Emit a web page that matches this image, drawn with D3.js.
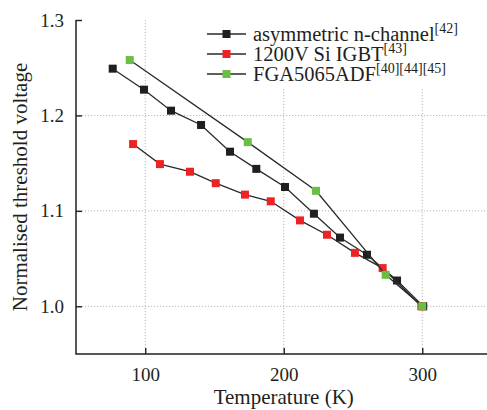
<!DOCTYPE html>
<html>
<head>
<meta charset="utf-8">
<script src="https://cdn.jsdelivr.net/npm/d3@7/dist/d3.min.js"></script>
<style>
  html, body { margin: 0; padding: 0; background: #fff; }
  svg { display: block; }
</style>
</head>
<body>
<svg id="chart" width="487" height="410"></svg>
<script>
// Threshold voltage (normalised to 300 K) versus temperature
const seriesNames = ["asymmetric n-channel", "1200V Si IGBT", "FGA5065ADF"];
const seriesRefs = ["[42]", "[43]", "[40][44][45]"];
const seriesColors = ["#1f1f1f", "#ed2224", "#6abd45"];

const tempAsym = [76.5, 99.1, 118.6, 140.3, 161.2, 180.2, 200.9, 221.8, 240.6, 260.1, 281.8, 300.7];
const vthAsym  = [1.249, 1.227, 1.205, 1.190, 1.162, 1.144, 1.125, 1.097, 1.072, 1.054, 1.027, 1.0];

const tempIgbt = [91.2, 110.6, 132.3, 150.9, 172.0, 190.6, 211.7, 231.2, 251.4, 271.4, 299.3];
const vthIgbt  = [1.170, 1.149, 1.141, 1.129, 1.117, 1.110, 1.090, 1.075, 1.056, 1.040, 1.0];

const tempFga = [88.8, 174.0, 223.3, 273.6, 300.0];
const vthFga  = [1.258, 1.172, 1.121, 1.033, 1.0];

const xTicks = [100, 200, 300];
const yTicks = [1.0, 1.1, 1.2, 1.3];
const yGridTicks = [1.0, 1.1, 1.2];

const series = [
  { t: tempAsym, v: vthAsym },
  { t: tempIgbt, v: vthIgbt },
  { t: tempFga,  v: vthFga }
];

const FONT = '"Liberation Serif", "Times New Roman"';
const INK = "#231f20";

const svg = d3.select("#chart");
const plotLeft = 76, plotRight = 491.5, plotTop = 20, plotBottom = 354;

const x = d3.scaleLinear().domain([50, 350]).range([plotLeft, plotRight]);
const y = d3.scaleLinear().domain([0.95, 1.3]).range([plotBottom, plotTop]);

// dotted grid
const grid = svg.append("g").attr("stroke", "#b8b8b8").attr("stroke-width", 1)
  .attr("stroke-dasharray", "1.2,1.8");
grid.selectAll("line.v").data(xTicks).join("line").attr("class", "v")
  .attr("x1", d => x(d)).attr("x2", d => x(d))
  .attr("y1", plotTop).attr("y2", plotBottom);
grid.selectAll("line.h").data(yGridTicks).join("line").attr("class", "h")
  .attr("x1", plotLeft).attr("x2", 487)
  .attr("y1", d => y(d)).attr("y2", d => y(d));

// legend backdrop hides the grid behind it
svg.append("rect").attr("x", 200).attr("y", plotTop - 2).attr("width", 290).attr("height", 70)
  .attr("fill", "#fff");

// axes with inward ticks
const xAxis = d3.axisBottom(x).tickValues(xTicks).tickSize(-6).tickPadding(14)
  .tickFormat(d3.format("d"));
const yAxis = d3.axisLeft(y).tickValues(yTicks).tickSize(-6).tickPadding(12)
  .tickFormat(d3.format(".1f"));

const gx = svg.append("g").attr("transform", `translate(0,${plotBottom})`).call(xAxis);
const gy = svg.append("g").attr("transform", `translate(${plotLeft},0)`).call(yAxis);
[gx, gy].forEach(g => {
  g.attr("font-family", FONT).attr("font-size", 19);
  g.select(".domain").remove();
  g.selectAll(".tick line").attr("stroke", INK).attr("stroke-width", 1.4);
  g.selectAll(".tick text").attr("fill", INK)
    .attr("font-family", FONT).attr("font-size", 19);
});
svg.append("path")
  .attr("d", `M${plotLeft},${plotTop}V${plotBottom}H487`)
  .attr("fill", "none").attr("stroke", INK).attr("stroke-width", 1.5);

// series lines and square markers
const line = d3.line().x(d => x(d[0])).y(d => y(d[1]));
const ms = 8;
series.forEach((s, i) => {
  const pts = s.t.map((t, k) => [t, s.v[k]]);
  svg.append("path").datum(pts).attr("d", line)
    .attr("fill", "none").attr("stroke", "#2a2a2a").attr("stroke-width", 1.3);
  svg.append("g").selectAll("rect").data(pts).join("rect")
    .attr("x", d => x(d[0]) - ms / 2).attr("y", d => y(d[1]) - ms / 2)
    .attr("width", ms).attr("height", ms)
    .attr("fill", seriesColors[i]);
});

// legend
const legend = svg.append("g");
const rowY = [34, 54, 74];
seriesNames.forEach((name, i) => {
  const g = legend.append("g").attr("transform", `translate(0,${rowY[i]})`);
  g.append("line").attr("x1", 207).attr("x2", 246).attr("y1", 0).attr("y2", 0)
    .attr("stroke", "#2a2a2a").attr("stroke-width", 1.3);
  g.append("rect").attr("x", 226.5 - ms / 2).attr("y", -ms / 2)
    .attr("width", ms).attr("height", ms).attr("fill", seriesColors[i]);
  const t = g.append("text").attr("x", 253).attr("y", 6.5)
    .attr("font-family", FONT).attr("font-size", 20.5).attr("fill", INK);
  t.append("tspan").text(name);
  t.append("tspan").attr("font-family", FONT).attr("font-size", 14).attr("dy", -8)
    .text(seriesRefs[i]);
});

// axis titles
svg.append("text").attr("x", x(200)).attr("y", 404).attr("text-anchor", "middle")
  .attr("font-family", FONT).attr("font-size", 21).attr("fill", INK)
  .text("Temperature (K)");
svg.append("text").attr("transform", `translate(27,${(plotTop + plotBottom) / 2}) rotate(-90)`)
  .attr("text-anchor", "middle")
  .attr("font-family", FONT).attr("font-size", 21).attr("fill", INK)
  .text("Normalised threshold voltage");
</script>
</body>
</html>
